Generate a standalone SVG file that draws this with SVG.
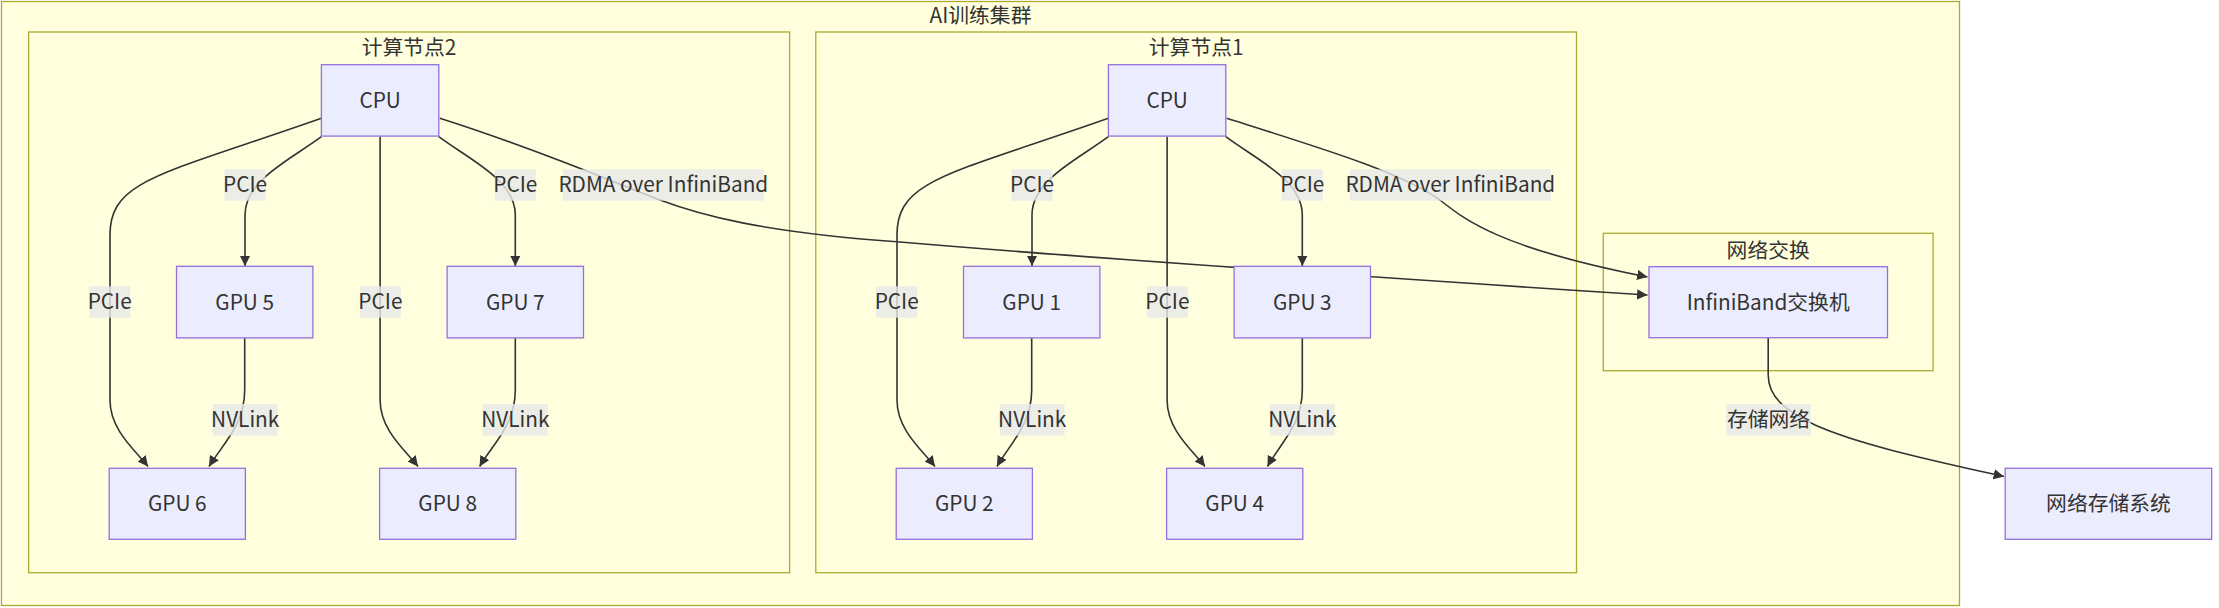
<svg xmlns="http://www.w3.org/2000/svg" width="2219" height="608" viewBox="0 0 2219 608">
<style>
  text { font-family: "Noto Sans CJK SC", "Noto Sans", sans-serif; font-size: 20.8px; fill: #333333; text-anchor: middle; }
  .cluster { fill: #ffffde; stroke: #aaaa33; stroke-width: 1.3; }
  .node rect { fill: #ececff; stroke: #9370db; stroke-width: 1.3; }
  .edge { fill: none; stroke: #333333; stroke-width: 1.6; }
  .arrow { marker-end: url(#arrow); }
  .lbl { fill: rgba(232,232,232,0.8); }
</style>
<defs>
  <marker id="arrow" viewBox="0 0 10 10" refX="10" refY="5" markerWidth="10.4" markerHeight="10.4" markerUnits="userSpaceOnUse" orient="auto">
    <path d="M0,0 L10,5 L0,10 z" fill="#333333"/>
  </marker>
</defs>
<rect x="0" y="0" width="2219" height="608" fill="#ffffff"/>

<g id="cluster-ai">
  <rect class="cluster" x="1.5" y="1.5" width="1958" height="604"/>
  <text x="980.5" y="23">AI训练集群</text>
</g>
<g id="cluster-node2">
  <rect class="cluster" x="28.6" y="32" width="761" height="540.7"/>
  <text x="409" y="55.3">计算节点2</text>
</g>
<g id="cluster-node1">
  <rect class="cluster" x="815.8" y="32" width="760.7" height="540.7"/>
  <text x="1196.2" y="55.3">计算节点1</text>
</g>
<g id="cluster-net">
  <rect class="cluster" x="1603.3" y="233.3" width="329.8" height="137.4"/>
  <text x="1768.2" y="257.5">网络交换</text>
</g>

<g id="connectors">
  <!-- node 2 -->
  <path class="edge arrow" d="M321.4,118.3 C160,175 110,180 110,235 L110,400 C110,430 135,450 148,466.5"/>
  <path class="edge arrow" d="M321.4,136.7 C290,160 245,180 245,215 L245,266"/>
  <path class="edge arrow" d="M380.1,136.7 L380.1,400 C380.1,430 405,450 418,466.5"/>
  <path class="edge arrow" d="M438.8,136.7 C470,160 515.3,180 515.3,215 L515.3,266"/>
  <path class="edge arrow" d="M244.7,338 L244.7,390 C244.7,425 222,445 209,466.5"/>
  <path class="edge arrow" d="M515.3,338 L515.3,390 C515.3,425 492,445 479.6,466.5"/>
  <!-- node 1 -->
  <path class="edge arrow" d="M1108.4,118.3 C947,175 897,180 897,235 L897,400 C897,430 922,450 935,466.5"/>
  <path class="edge arrow" d="M1108.4,136.7 C1077,160 1032,180 1032,215 L1032,266"/>
  <path class="edge arrow" d="M1167.1,136.7 L1167.1,400 C1167.1,430 1192,450 1205,466.5"/>
  <path class="edge arrow" d="M1225.8,136.7 C1257,160 1302.3,180 1302.3,215 L1302.3,266"/>
  <path class="edge arrow" d="M1031.7,338 L1031.7,390 C1031.7,425 1009,445 997,466.5"/>
  <path class="edge arrow" d="M1302.3,338 L1302.3,390 C1302.3,425 1279,445 1267.5,466.5"/>
  <!-- RDMA -->
  <path class="edge arrow" d="M439.8,118.3 C540,150 620,185 660,200 C700,215 760,232 900,242 C1100,259 1400,279 1647.5,295"/>
  <path class="edge arrow" d="M1226.8,118.3 C1327,150 1400,172 1440,200 C1465,220 1500,248 1647.5,277"/>
  <!-- storage -->
  <path class="edge arrow" d="M1768.2,337.7 L1768.2,375 C1768.2,400 1790,412 1815,425 C1860,445 1930,460 2004,476.5"/>

  <!-- edge labels -->
  <rect class="lbl" x="224.5" y="169.3" width="41" height="31.4"/><text x="245" y="192.3">PCIe</text>
  <rect class="lbl" x="494.8" y="169.3" width="41" height="31.4"/><text x="515.3" y="192.3">PCIe</text>
  <rect class="lbl" x="562.8" y="169.3" width="201" height="31.4"/><text x="663.3" y="192.3">RDMA over InfiniBand</text>
  <rect class="lbl" x="89.2" y="286.3" width="41" height="31.4"/><text x="109.7" y="309.3">PCIe</text>
  <rect class="lbl" x="359.9" y="286.3" width="41" height="31.4"/><text x="380.4" y="309.3">PCIe</text>
  <rect class="lbl" x="212.8" y="404" width="64.8" height="31.6"/><text x="245.2" y="427.1">NVLink</text>
  <rect class="lbl" x="482.9" y="404" width="64.8" height="31.6"/><text x="515.3" y="427.1">NVLink</text>

  <rect class="lbl" x="1011.5" y="169.3" width="41" height="31.4"/><text x="1032" y="192.3">PCIe</text>
  <rect class="lbl" x="1281.8" y="169.3" width="41" height="31.4"/><text x="1302.3" y="192.3">PCIe</text>
  <rect class="lbl" x="1349.8" y="169.3" width="201" height="31.4"/><text x="1450.3" y="192.3">RDMA over InfiniBand</text>
  <rect class="lbl" x="876.2" y="286.3" width="41" height="31.4"/><text x="896.7" y="309.3">PCIe</text>
  <rect class="lbl" x="1146.9" y="286.3" width="41" height="31.4"/><text x="1167.4" y="309.3">PCIe</text>
  <rect class="lbl" x="999.8" y="404" width="64.8" height="31.6"/><text x="1032.2" y="427.1">NVLink</text>
  <rect class="lbl" x="1269.9" y="404" width="64.8" height="31.6"/><text x="1302.3" y="427.1">NVLink</text>

  <rect class="lbl" x="1726.2" y="404" width="84.5" height="31.6"/><text x="1768.5" y="427.3">存储网络</text>
</g>

<g id="cpu2" class="node"><rect x="321.4" y="64.7" width="117.4" height="71.4"/><text x="380.1" y="108">CPU</text></g>
<g id="gpu5" class="node"><rect x="176.5" y="266.3" width="136.4" height="71.6"/><text x="244.7" y="309.8">GPU 5</text></g>
<g id="gpu7" class="node"><rect x="447.1" y="266.3" width="136.4" height="71.6"/><text x="515.3" y="309.8">GPU 7</text></g>
<g id="gpu6" class="node"><rect x="109.2" y="468.3" width="136.2" height="71"/><text x="177.3" y="511.3">GPU 6</text></g>
<g id="gpu8" class="node"><rect x="379.6" y="468.3" width="136.2" height="71"/><text x="447.7" y="511.3">GPU 8</text></g>

<g id="cpu1" class="node"><rect x="1108.4" y="64.7" width="117.4" height="71.4"/><text x="1167.1" y="108">CPU</text></g>
<g id="gpu1" class="node"><rect x="963.5" y="266.3" width="136.4" height="71.6"/><text x="1031.7" y="309.8">GPU 1</text></g>
<g id="gpu3" class="node"><rect x="1234.1" y="266.3" width="136.4" height="71.6"/><text x="1302.3" y="309.8">GPU 3</text></g>
<g id="gpu2" class="node"><rect x="896.2" y="468.3" width="136.2" height="71"/><text x="964.3" y="511.3">GPU 2</text></g>
<g id="gpu4" class="node"><rect x="1166.6" y="468.3" width="136.2" height="71"/><text x="1234.7" y="511.3">GPU 4</text></g>

<g id="ibswitch" class="node"><rect x="1649" y="266.7" width="238.5" height="71"/><text x="1768.2" y="309.6">InfiniBand交换机</text></g>
<g id="storage" class="node"><rect x="2005.2" y="468.3" width="206.5" height="71"/><text x="2108.5" y="511.3">网络存储系统</text></g>
</svg>
